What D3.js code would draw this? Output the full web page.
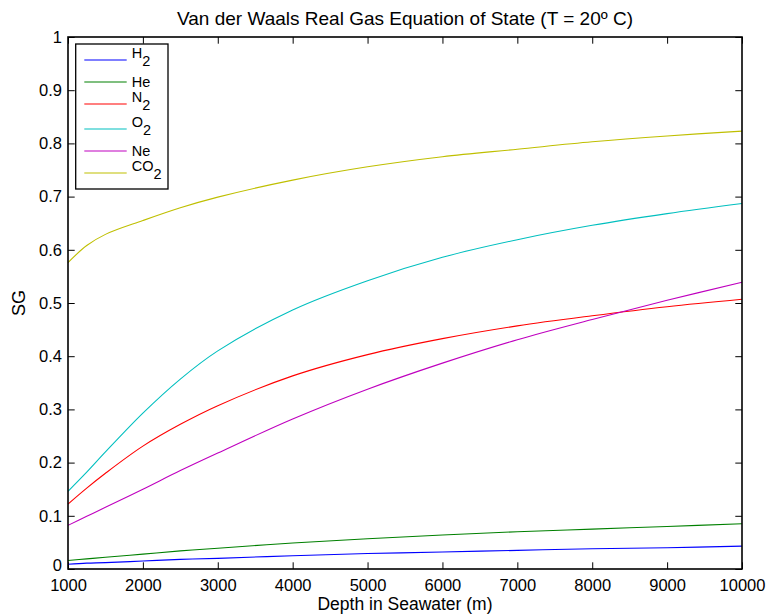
<!DOCTYPE html>
<html>
<head>
<meta charset="utf-8">
<script src="https://cdn.jsdelivr.net/npm/d3@7"></script>
<style>
  html, body { margin: 0; padding: 0; background: #fff; }
  svg { display: block; font-family: "Liberation Sans", Arial, Helvetica, sans-serif; }
</style>
</head>
<body>
<svg id="chart" width="771" height="616"></svg>
<script>
// Depth in seawater (m) at which each specific gravity was evaluated
const depths = [1000, 1250, 1500, 2000, 2500, 3000, 4000, 5000, 6000, 7000, 8000, 9000, 10000];

// Specific gravity per gas (Van der Waals, T = 20 °C)
const sgH2  = [0.009, 0.011, 0.012, 0.015, 0.018, 0.020, 0.025, 0.029, 0.032, 0.035, 0.038, 0.040, 0.043];
const sgHe  = [0.016, 0.019, 0.022, 0.028, 0.034, 0.039, 0.049, 0.057, 0.064, 0.070, 0.075, 0.080, 0.085];
const sgN2  = [0.122, 0.152, 0.180, 0.231, 0.272, 0.307, 0.363, 0.403, 0.433, 0.457, 0.476, 0.493, 0.507];
const sgO2  = [0.146, 0.182, 0.220, 0.293, 0.357, 0.410, 0.487, 0.542, 0.586, 0.619, 0.646, 0.668, 0.687];
const sgNe  = [0.082, 0.099, 0.116, 0.150, 0.185, 0.218, 0.282, 0.338, 0.387, 0.431, 0.469, 0.505, 0.539];
const sgCO2 = [0.576, 0.608, 0.629, 0.655, 0.679, 0.699, 0.731, 0.756, 0.775, 0.789, 0.803, 0.814, 0.823];

// Legend names: base symbol and optional subscript
const gasNames = [["H", "2"], ["He", ""], ["N", "2"], ["O", "2"], ["Ne", ""], ["CO", "2"]];
const gasColors = ["#0000ff", "#008000", "#ff0000", "#00bfbf", "#bf00bf", "#bfbf00"];
const gasValues = [sgH2, sgHe, sgN2, sgO2, sgNe, sgCO2];

const xTicks = [1000, 2000, 3000, 4000, 5000, 6000, 7000, 8000, 9000, 10000];
const yTicks = [0, 0.1, 0.2, 0.3, 0.4, 0.5, 0.6, 0.7, 0.8, 0.9, 1];

const titleText = "Van der Waals Real Gas Equation of State (T = 20\u00BA C)";
const xLabel = "Depth in Seawater (m)";
const yLabel = "SG";

const margin = { left: 68, top: 37, right: 29, bottom: 47 };
const W = 771, H = 616;
const pw = W - margin.left - margin.right;
const ph = H - margin.top - margin.bottom;

const svg = d3.select("#chart");
const g = svg.append("g").attr("transform", `translate(${margin.left},${margin.top})`);

const x = d3.scaleLinear().domain([1000, 10000]).range([0, pw]);
const y = d3.scaleLinear().domain([0, 1]).range([ph, 0]);

const tickLen = 6.7;
const fmtY = d => d === 0 ? "0" : d === 1 ? "1" : d3.format(".1f")(d);

// Bottom axis with inward ticks
const xAxis = g.append("g").attr("transform", `translate(0,${ph})`)
  .call(d3.axisBottom(x).tickValues(xTicks).tickSize(-tickLen).tickPadding(10).tickFormat(d3.format("d")));
// Left axis with inward ticks
const yAxis = g.append("g")
  .call(d3.axisLeft(y).tickValues(yTicks).tickSize(-tickLen).tickPadding(6).tickFormat(fmtY));
// Top and right axes: ticks only
const xTop = g.append("g")
  .call(d3.axisTop(x).tickValues(xTicks).tickSize(-tickLen).tickFormat(""));
const yRight = g.append("g").attr("transform", `translate(${pw},0)`)
  .call(d3.axisRight(y).tickValues(yTicks).tickSize(-tickLen).tickFormat(""));

[xAxis, yAxis, xTop, yRight].forEach(a => {
  a.select(".domain").remove();
  a.selectAll(".tick line").attr("stroke", "#000").attr("stroke-width", 1);
  a.selectAll("text").attr("fill", "#000").style("font-size", "16.5px")
    .style("font-family", '"Liberation Sans", Arial, sans-serif');
});
// The zero label sits a little high so it clears the first depth label
yAxis.selectAll(".tick text").filter(d => d === 0).attr("dy", "0.1em");

// Series lines
const line = d3.line().curve(d3.curveCatmullRom.alpha(0.5));
gasValues.forEach((vals, i) => {
  g.append("path")
    .attr("d", line(depths.map((d, k) => [x(d), y(vals[k])])))
    .attr("fill", "none")
    .attr("stroke", gasColors[i])
    .attr("stroke-width", 1.1);
});

// Axes box
g.append("rect").attr("x", 0).attr("y", 0).attr("width", pw).attr("height", ph)
  .attr("fill", "none").attr("stroke", "#000").attr("stroke-width", 1.6);

// Legend
const legX = 7.7, legY = 7, legW = 92.3;
const rowH = gasNames.map(n => n[1] ? 25 : 19);
const centers = [];
let acc = 3.5;
rowH.forEach((h, i) => { centers.push(acc + h / 2); acc += h; });
const legH = acc + 3.5;
const leg = g.append("g").attr("transform", `translate(${legX},${legY})`);
leg.append("rect").attr("width", legW).attr("height", legH)
  .attr("fill", "#fff").attr("stroke", "#000").attr("stroke-width", 1.3);
gasNames.forEach((n, i) => {
  const cy = centers[i];
  leg.append("line").attr("x1", 8.6).attr("x2", 51).attr("y1", cy).attr("y2", cy)
    .attr("stroke", gasColors[i]).attr("stroke-width", 1.1);
  const t = leg.append("text").attr("x", 56).attr("y", n[1] ? cy - 2.3 : cy + 5)
    .attr("fill", "#000").style("font-size", "14.5px");
  t.append("tspan").text(n[0]);
  if (n[1]) t.append("tspan").attr("dy", 8.3).text(n[1]);
});

// Title and axis labels
svg.append("text").attr("x", margin.left + pw / 2).attr("y", 25)
  .attr("text-anchor", "middle").style("font-size", "19px").attr("fill", "#000").text(titleText);
svg.append("text").attr("x", margin.left + pw / 2).attr("y", 610)
  .attr("text-anchor", "middle").style("font-size", "17.5px").attr("fill", "#000").text(xLabel);
svg.append("text").attr("transform", `translate(25,${margin.top + ph / 2}) rotate(-90)`)
  .attr("text-anchor", "middle").style("font-size", "18px").attr("fill", "#000").text(yLabel);
</script>
</body>
</html>
